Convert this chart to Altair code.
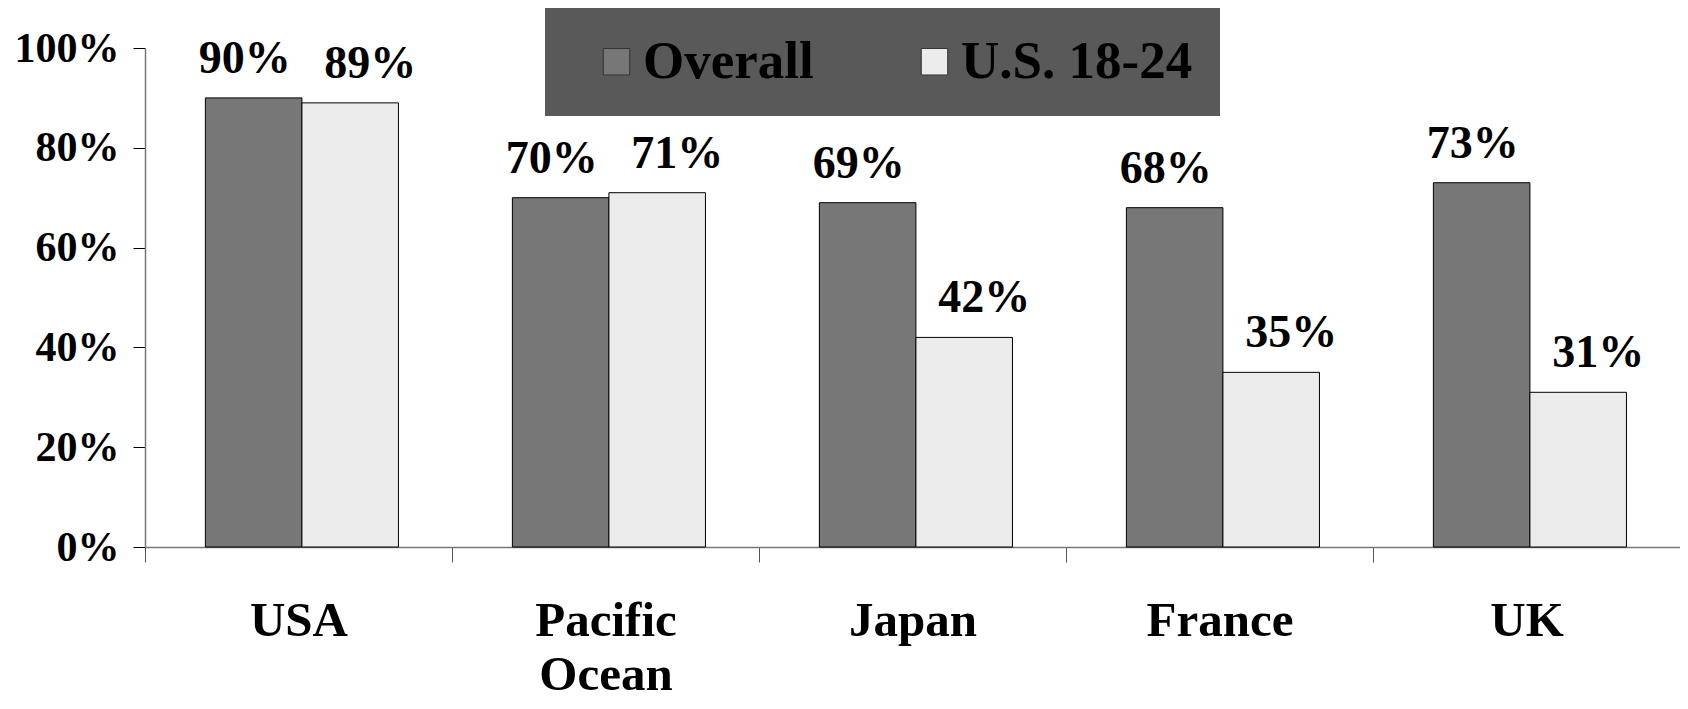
import altair as alt
import pandas as pd

categories = ["USA", "Pacific Ocean", "Japan", "France", "UK"]
series_names = ["Overall", "U.S. 18-24"]
overall = [0.90, 0.70, 0.69, 0.68, 0.73]
us_18_24 = [0.89, 0.71, 0.42, 0.35, 0.31]
y_ticks = [0, 0.2, 0.4, 0.6, 0.8, 1.0]

rows = []
for c, a, b in zip(categories, overall, us_18_24):
    rows.append({"cat": c, "series": series_names[0], "value": a})
    rows.append({"cat": c, "series": series_names[1], "value": b})
df = pd.DataFrame(rows)

FONT = "Liberation Serif"

x_enc = alt.X(
    "cat:N",
    sort=categories,
    scale=alt.Scale(paddingInner=0, paddingOuter=0),
    axis=alt.Axis(
        title=None,
        tickBand="extent",
        tickSize=15,
        tickColor="#555555",
        domainColor="#777777",
        domainWidth=1.5,
        labelFont=FONT,
        labelFontSize=49,
        labelFontWeight="bold",
        labelColor="black",
        labelPadding=34,
        labelLineHeight=54,
        labelAngle=0,
        labelExpr="datum.label == 'Pacific Ocean' ? ['Pacific', 'Ocean'] : datum.label",
    ),
)
xoff_enc = alt.XOffset(
    "series:N",
    sort=series_names,
    scale=alt.Scale(paddingInner=0, paddingOuter=0.59, align=0.53),
)
y_enc = alt.Y(
    "value:Q",
    scale=alt.Scale(domain=[0, 1], nice=False),
    axis=alt.Axis(
        title=None,
        values=y_ticks,
        format=".0%",
        grid=False,
        tickSize=12,
        tickColor="black",
        domainColor="#777777",
        domainWidth=1.5,
        labelFont=FONT,
        labelFontSize=42,
        labelFontWeight="bold",
        labelColor="black",
        labelPadding=14,
    ),
)

bars = alt.Chart(df).mark_bar(stroke="black", strokeWidth=1).encode(
    x=x_enc,
    xOffset=xoff_enc,
    y=y_enc,
    fill=alt.Fill(
        "series:N",
        sort=series_names,
        scale=alt.Scale(domain=series_names, range=["#777777", "#ececec"]),
        legend=alt.Legend(
            title=None,
            orient="none",
            legendX=400,
            legendY=-40,
            direction="horizontal",
            fillColor="#595959",
            padding=27,
            symbolType="square",
            symbolSize=700,
            symbolStrokeColor="#333333",
            symbolStrokeWidth=1,
            symbolOpacity=1,
            symbolOffset=18,
            labelFont=FONT,
            labelFontSize=53,
            labelFontWeight="bold",
            labelColor="black",
            labelOffset=0,
            labelLimit=400,
            columnPadding=76,
        ),
    ),
)

def label_layer(name, dx):
    return (
        alt.Chart(df)
        .transform_filter(alt.datum.series == name)
        .mark_text(
            font=FONT,
            fontSize=46,
            fontWeight="bold",
            color="black",
            baseline="alphabetic",
            dx=dx,
            dy=-25,
        )
        .encode(
            x=alt.X("cat:N", sort=categories),
            xOffset=alt.XOffset("series:N", sort=series_names),
            y=alt.Y("value:Q"),
            text=alt.Text("value:Q", format=".0%"),
        )
    )

chart = (
    alt.layer(bars, label_layer("Overall", -9), label_layer("U.S. 18-24", 20))
    .properties(
        width=1535,
        height=499,
        autosize=alt.AutoSizeParams(type="none"),
        padding={"left": 137, "top": 40, "right": 0, "bottom": 153},
    )
    .configure_view(stroke=None)
)

chart.save("out.html", embed_options={"renderer": "svg", "actions": False})
